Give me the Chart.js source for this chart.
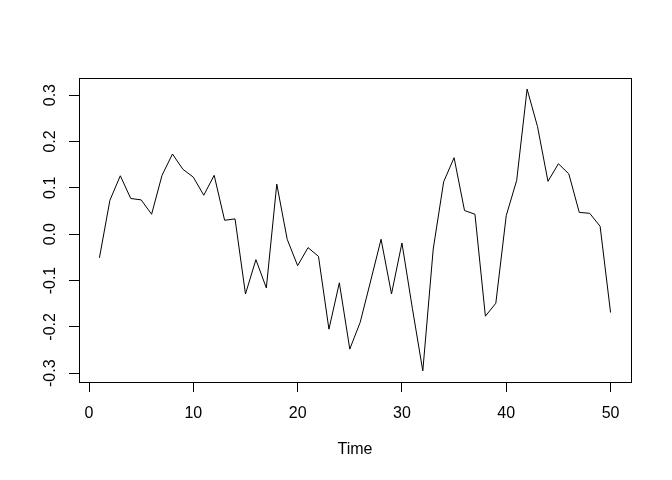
<!DOCTYPE html>
<html>
<head>
  <meta charset="UTF-8" />
  <title>Time series</title>
  <script src="https://cdn.jsdelivr.net/npm/chart.js"></script>
  <style>
    body { margin: 0; background: #ffffff; }
    #wrap { width: 672px; height: 480px; }
  </style>
</head>
<body>
<div id="wrap"><canvas id="serie" width="672" height="480"></canvas></div>

<script>
// valores (t = 1..50)
const tiempo = [];
for (let i = 1; i <= 50; i++) tiempo.push(i);
const valores = [
  -0.051, 0.073, 0.126, 0.077, 0.074, 0.043, 0.127, 0.173, 0.140, 0.123,
  0.084, 0.127, 0.030, 0.033, -0.129, -0.055, -0.116, 0.108, -0.011, -0.068,
  -0.029, -0.048, -0.205, -0.105, -0.248, -0.190, -0.101, -0.011, -0.129, -0.019,
  -0.160, -0.295, -0.032, 0.113, 0.165, 0.051, 0.043, -0.177, -0.149, 0.040,
  0.116, 0.313, 0.232, 0.114, 0.152, 0.130, 0.047, 0.045, 0.017, -0.169
];
const ticksX = [0, 10, 20, 30, 40, 50];
const ticksY = [-0.3, -0.2, -0.1, 0.0, 0.1, 0.2, 0.3];

const fuente = { family: 'Arial, "Liberation Sans", sans-serif', size: 16 };

// marco alrededor del area de dibujo
const marco = {
  id: 'marco',
  afterDraw(chart) {
    const a = chart.chartArea;
    const ctx = chart.ctx;
    ctx.save();
    ctx.strokeStyle = '#000';
    ctx.lineWidth = 1;
    ctx.strokeRect(Math.round(a.left) + 0.5, Math.round(a.top) + 0.5,
      Math.round(a.right - a.left), Math.round(a.bottom - a.top));
    ctx.restore();
  }
};

new Chart(document.getElementById('serie').getContext('2d'), {
  type: 'line',
  data: {
    datasets: [{
      data: tiempo.map((t, i) => ({ x: t, y: valores[i] })),
      borderColor: '#000',
      borderWidth: 1,
      pointRadius: 0,
      tension: 0,
      fill: false
    }]
  },
  options: {
    responsive: false,
    animation: false,
    layout: { padding: { left: 0, right: 41, top: 78, bottom: 0 } },
    plugins: { legend: { display: false }, tooltip: { enabled: false } },
    scales: {
      x: {
        type: 'linear',
        min: -0.96,
        max: 51.96,
        afterBuildTicks: s => { s.ticks = ticksX.map(v => ({ value: v })); },
        afterFit: s => { s.height = 98; },
        grid: { drawOnChartArea: false, drawTicks: true, tickLength: 10, color: '#000' },
        border: { display: false },
        ticks: { color: '#000', font: fuente, padding: 12, maxRotation: 0, minRotation: 0,
                 callback: v => String(v) },
        title: { display: true, text: 'Time', color: '#000', font: fuente,
                 padding: { top: 0, bottom: 21 } }
      },
      y: {
        min: -0.319,
        max: 0.337,
        afterBuildTicks: s => { s.ticks = ticksY.map(v => ({ value: v })); },
        afterFit: s => { s.width = 79; },
        grid: { drawOnChartArea: false, drawTicks: true, tickLength: 10, color: '#000' },
        border: { display: false },
        ticks: { color: '#000', font: fuente, padding: 5, minRotation: 90, maxRotation: 90,
                 crossAlign: 'center', callback: v => v.toFixed(1) }
      }
    }
  },
  plugins: [marco]
});
</script>
</body>
</html>
